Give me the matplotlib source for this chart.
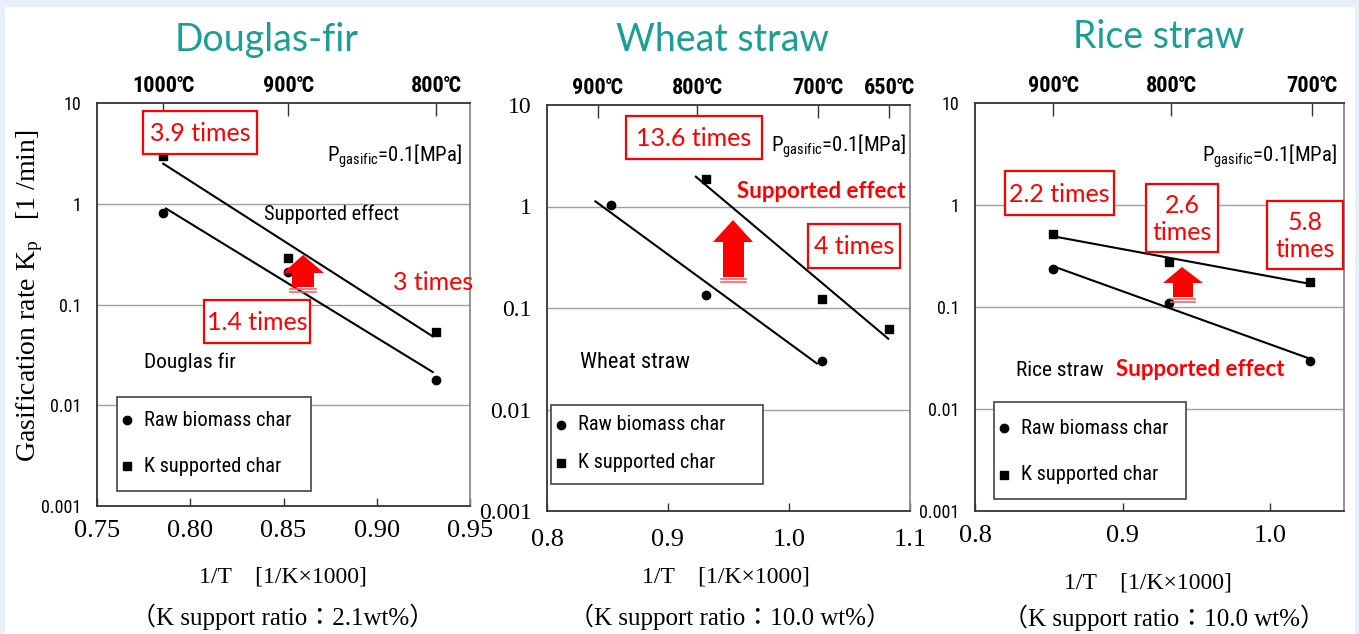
import numpy as np
import matplotlib
matplotlib.use('Agg')
import matplotlib.pyplot as plt
from matplotlib import font_manager as fm
from matplotlib.patches import Polygon, Rectangle
from matplotlib.lines import Line2D

# ---------------- data ----------------
# Douglas-fir
df_x = [0.7855, 0.8525, 0.932]
df_raw = [0.81, 0.21, 0.018]
df_k = [2.98, 0.29, 0.053]
df_fit_raw = [0.787, 0.930]
df_fit_k = [0.7855, 0.930]
df_top_ticks = [0.7855, 0.8525, 0.932]
df_top_labels = ['1000℃', '900℃', '800℃']
df_xticks = [0.75, 0.80, 0.85, 0.90, 0.95]
df_xticklabels = ['0.75', '0.80', '0.85', '0.90', '0.95']

# Wheat straw
ws_x_raw = [0.8525, 0.931, 1.027]
ws_raw = [1.03, 0.134, 0.030]
ws_x_k = [0.931, 1.027, 1.0826]
ws_k = [1.87, 0.123, 0.062]
ws_fit_raw = [0.840, 1.023]
ws_fit_k = [0.923, 1.082]
ws_top_ticks = [0.842, 0.924, 1.024, 1.083]
ws_top_labels = ['900℃', '800℃', '700℃', '650℃']
ws_xticks = [0.8, 0.9, 1.0, 1.1]
ws_xticklabels = ['0.8', '0.9', '1.0', '1.1']

# Rice straw
rs_x = [0.853, 0.9315, 1.027]
rs_raw = [0.236, 0.109, 0.0296]
rs_k = [0.52, 0.276, 0.176]
rs_fit_raw = [0.853, 1.027]
rs_fit_k = [0.853, 1.027]
rs_top_ticks = [0.853, 0.933, 1.028]
rs_top_labels = ['900℃', '800℃', '700℃']
rs_xticks = [0.8, 0.9, 1.0]
rs_xticklabels = ['0.8', '0.9', '1.0']

yticks = [0.001, 0.01, 0.1, 1, 10]
yticklabels = ['0.001', '0.01', '0.1', '1', '10']

# ---------------- fonts ----------------
_fonts = fm.fontManager.ttflist


def _has(name, stretch=None):
    return any(f.name == name and (stretch is None or str(f.stretch) == stretch) for f in _fonts)


_cands = [
    ('Liberation Sans Narrow', None, 'normal'),
    ('Roboto Condensed', None, 'normal'),
    ('Open Sans Condensed', None, 'normal'),
    ('Noto Sans', 'condensed', 'condensed'),
    ('Noto Sans', 'semi-condensed', 'semi-condensed'),
    ('DejaVu Sans', 'condensed', 'condensed'),
    ('Liberation Sans', None, 'normal'),
]
NF, NS = ['DejaVu Sans'], 'normal'
for _n, _st, _ns in _cands:
    if _has(_n, _st):
        NF, NS = [_n, 'DejaVu Sans'], _ns
        break

SERIF = ['Liberation Serif', 'Noto Sans CJK JP', 'DejaVu Serif']
CAL = ['Lato', 'DejaVu Sans']
RED = '#FF0000'
TEAL = '#1A9E96'

W, H = 1359, 634
fig = plt.figure(figsize=(W / 100, H / 100), dpi=100)
fig.patch.set_facecolor('#E6EFFA')
fig.patches.append(Rectangle((5 / W, 0), (1355 - 5) / W, (634 - 7) / H,
                             transform=fig.transFigure, facecolor='white',
                             edgecolor='none', zorder=0))
_renderer = fig.canvas.get_renderer()


def fit_size(s, target_px, weight='normal'):
    """font size (pt) giving the narrow font a rendered width of target_px"""
    t = fig.text(0, 0, s, family=NF, fontstretch=NS, fontsize=10, fontweight=weight)
    w = t.get_window_extent(_renderer).width
    t.remove()
    return 10 * target_px / w


SZ_BODY = min(fit_size('Raw biomass char', 124) * 1.18, 15)
SZ_PG = min(fit_size(r'P$\mathregular{_{gasific}}$=0.1[MPa]', 121) * 1.12, 16)
SZ_TOP = min(fit_size('1000℃', 56, 'bold') * 1.18, 16)
SZ_YT = min(fit_size('0.001', 34) * 1.18, 13)


def fx(px):
    return px / W


def fy(py):
    return 1 - py / H


def ftext(x, y, s, **kw):
    return fig.text(fx(x), fy(y), s, **kw)


def ntext(x, y, s, size, **kw):
    return fig.text(fx(x), fy(y), s, family=NF, fontstretch=NS, fontsize=size, **kw)


def fbox(x0, y0, x1, y1, color=RED, lw=1.6):
    fig.patches.append(Rectangle((fx(x0), fy(y1)), fx(x1) - fx(x0), fy(y0) - fy(y1),
                                 transform=fig.transFigure, facecolor='white',
                                 edgecolor=color, lw=lw, zorder=5))


def farrow(tipx, tipy, hx0, hx1, hby, sx0, sx1, sby):
    pts = [(tipx, tipy), (hx1, hby), (sx1, hby), (sx1, sby), (sx0, sby), (sx0, hby), (hx0, hby)]
    fig.patches.append(Polygon([(fx(a), fy(b)) for a, b in pts], closed=True,
                               transform=fig.transFigure, facecolor=RED,
                               edgecolor='none', zorder=6))
    for k in range(2):
        yy = sby + 2 + 3 * k
        fig.lines.append(Line2D([fx(sx0 - 2), fx(sx1 + 2)], [fy(yy), fy(yy)],
                                transform=fig.transFigure, color='#FF6060', lw=1.2, zorder=6))


def make_ax(box, xlim, xticks, xticklabels, top_ticks, top_labels, serif_ticks):
    x0, y0, x1, y1 = box
    ax = fig.add_axes([fx(x0), fy(y1), fx(x1) - fx(x0), fy(y0) - fy(y1)])
    ax.set_zorder(2)
    ax.set_facecolor('none')
    ax.set_yscale('log')
    ax.set_xlim(*xlim)
    ax.set_ylim(0.001, 10)
    ax.set_yticks(yticks)
    ax.set_yticklabels(yticklabels)
    ax.yaxis.set_minor_locator(matplotlib.ticker.NullLocator())
    ax.set_xticks(xticks)
    ax.set_xticklabels(xticklabels)
    for lab in ax.get_xticklabels():
        lab.set_fontfamily(SERIF)
        lab.set_fontsize(19)
    for lab in ax.get_yticklabels():
        if serif_ticks:
            lab.set_fontfamily(SERIF)
            lab.set_fontsize(17)
        else:
            lab.set_fontfamily(NF)
            lab.set_fontstretch(NS)
            lab.set_fontsize(SZ_YT)
    ax.tick_params(axis='x', direction='in', length=6, width=1, color='#333333',
                   pad=10 if not serif_ticks else 13)
    ax.tick_params(axis='y', length=0, pad=11)
    for yv in [0.01, 0.1, 1]:
        ax.axhline(yv, color='#A0A0A0', lw=1, zorder=0)
    for s in ax.spines.values():
        s.set_color('#333333')
        s.set_linewidth(1.3)
    ax.spines['right'].set_color('#8A8A8A')
    top = ax.secondary_xaxis('top')
    top.set_xticks(top_ticks)
    top.set_xticklabels(top_labels)
    top.tick_params(direction='in', length=9, width=1, color='#333333', pad=4)
    for lab in top.get_xticklabels():
        lab.set_fontfamily(NF)
        lab.set_fontstretch(NS)
        lab.set_fontsize(SZ_TOP)
        lab.set_fontweight('bold')
    top.spines['top'].set_visible(False)
    return ax


def plot_series(ax, xr, yr, xk, yk, fit_r, fit_k):
    for xs, ys, fr in [(xr, yr, fit_r), (xk, yk, fit_k)]:
        p = np.polyfit(xs, np.log10(ys), 1)
        xx = np.array(fr)
        ax.plot(xx, 10 ** np.polyval(p, xx), color='black', lw=1.5, zorder=3)
    ax.plot(xr, yr, 'o', color='black', ms=6, zorder=4)
    ax.plot(xk, yk, 's', color='black', ms=6, zorder=4)


def legend_box(x0, y0, x1, y1, yc, yk):
    fig.patches.append(Rectangle((fx(x0), fy(y1)), fx(x1) - fx(x0), fy(y0) - fy(y1),
                                 transform=fig.transFigure, facecolor='white',
                                 edgecolor='#444444', lw=1.2, zorder=5))
    mx = x0 + 10
    fig.lines.append(Line2D([fx(mx)], [fy(yc)], marker='o', ms=6, color='black',
                            transform=fig.transFigure, zorder=6))
    fig.lines.append(Line2D([fx(mx)], [fy(yk)], marker='s', ms=6, color='black',
                            transform=fig.transFigure, zorder=6))
    ntext(x0 + 27, yc, 'Raw biomass char', SZ_BODY, va='center', zorder=7)
    ntext(x0 + 27, yk, 'K supported char', SZ_BODY, va='center', zorder=7)


def boxed(x0, y0, x1, y1, s, fs=18, ha='center'):
    fbox(x0, y0, x1, y1)
    xt = (x0 + x1) / 2 if ha == 'center' else x0 + 2
    ftext(xt, (y0 + y1) / 2 + 1, s, family=CAL, fontsize=fs, color=RED,
          ha=ha, va='center', zorder=7, linespacing=1.25)


PG = r'P$\mathregular{_{gasific}}$=0.1[MPa]'
XL = '1/T    [1/K×1000]'

# ---------------- panel 1: Douglas-fir ----------------
ax1 = make_ax((97, 103, 470, 506), (0.75, 0.95), df_xticks, df_xticklabels,
              df_top_ticks, df_top_labels, serif_ticks=False)
plot_series(ax1, df_x, df_raw, df_x, df_k, df_fit_raw, df_fit_k)
ftext(267, 40, 'Douglas-fir', family=CAL, fontsize=27, color=TEAL, ha='center', va='center')
ntext(327, 162, PG, SZ_PG, va='baseline')
ntext(264, 214, 'Supported effect', SZ_BODY, va='center')
ftext(393, 282, '3 times', family=CAL, fontsize=18, color=RED, va='center')
ntext(144, 362, 'Douglas fir', SZ_BODY * 1.05, va='center')
boxed(143, 111, 257, 154, '3.9 times')
boxed(204, 300, 310, 343, '1.4 times')
farrow(303, 255, 283, 324, 273, 292, 314, 287)
legend_box(117, 397, 311, 491, 420, 466)
ftext(30, 296, r'Gasification rate K$\mathregular{_p}$   [1 /min]', family=SERIF,
      fontsize=20, rotation=90, ha='center', va='center')
ftext(283, 577, XL, family=SERIF, fontsize=17, ha='center', va='center')
ftext(283, 617, '（K support ratio：2.1wt%）', family=SERIF, fontsize=18, ha='center', va='center')

# ---------------- panel 2: Wheat straw ----------------
ax2 = make_ax((547, 105, 910, 511), (0.8, 1.1), ws_xticks, ws_xticklabels,
              ws_top_ticks, ws_top_labels, serif_ticks=True)
plot_series(ax2, ws_x_raw, ws_raw, ws_x_k, ws_k, ws_fit_raw, ws_fit_k)
ftext(722, 40, 'Wheat straw', family=CAL, fontsize=27, color=TEAL, ha='center', va='center')
ntext(771, 152, PG, SZ_PG, va='baseline')
ftext(737, 192, 'Supported effect', family=CAL, fontsize=16, fontweight='bold', color=RED, va='center')
ntext(580, 363, 'Wheat straw', SZ_BODY * 1.1, va='center')
boxed(626, 116, 762, 159, '13.6 times')
boxed(808, 224, 900, 268, '4 times')
farrow(733, 220, 713, 753, 242, 723, 744, 277)
legend_box(551, 405, 763, 484, 425, 463)
ftext(726, 577, XL, family=SERIF, fontsize=17, ha='center', va='center')
ftext(730, 617, '（K support ratio：10.0 wt%）', family=SERIF, fontsize=18, ha='center', va='center')

# ---------------- panel 3: Rice straw ----------------
ax3 = make_ax((975, 103, 1344, 511), (0.8, 1.05), rs_xticks, rs_xticklabels,
              rs_top_ticks, rs_top_labels, serif_ticks=False)
plot_series(ax3, rs_x, rs_raw, rs_x, rs_k, rs_fit_raw, rs_fit_k)
ftext(1159, 37, 'Rice straw', family=CAL, fontsize=27, color=TEAL, ha='center', va='center')
ntext(1202, 162, PG, SZ_PG, va='baseline')
boxed(1005, 171, 1114, 215, '2.2 times')
boxed(1146, 184, 1218, 252, '2.6\ntimes')
boxed(1267, 201, 1343, 269, '5.8\ntimes')
farrow(1182, 267, 1163, 1203, 283, 1173, 1193, 297)
ntext(1016, 370, 'Rice straw', SZ_BODY * 1.05, va='center')
ftext(1116, 370, 'Supported effect', family=CAL, fontsize=16, fontweight='bold', color=RED, va='center')
legend_box(994, 402, 1186, 499, 428, 475)
ftext(1148, 583, XL, family=SERIF, fontsize=17, ha='center', va='center')
ftext(1164, 618, '（K support ratio：10.0 wt%）', family=SERIF, fontsize=18, ha='center', va='center')

fig.savefig('out.png', dpi=100)
